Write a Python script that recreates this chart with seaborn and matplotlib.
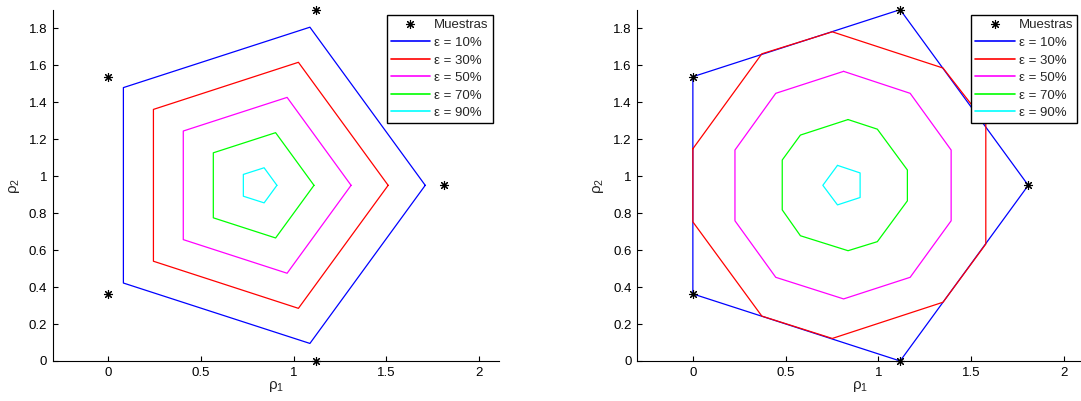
import numpy as np
import seaborn as sns
import matplotlib.pyplot as plt
from matplotlib.lines import Line2D

sns.set_style('white')
plt.rcParams['font.family'] = ['Liberation Sans', 'DejaVu Sans']
plt.rcParams['mathtext.fontset'] = 'custom'
plt.rcParams['mathtext.rm'] = 'Liberation Sans'
plt.rcParams['mathtext.it'] = 'Liberation Sans'
plt.rcParams['mathtext.default'] = 'regular'

# muestras (pentagono de referencia)
samples_x = [0.0, 0.0, 1.118, 1.809, 1.118]
samples_y = [0.363, 1.539, 1.902, 0.951, 0.0]

labels = ['ε = 10%', 'ε = 30%', 'ε = 50%', 'ε = 70%', 'ε = 90%']
colors = ['#0000ff', '#ff0000', '#ff00ff', '#00ff00', '#00ffff']

# panel izquierdo: pentagonos escalados
left_x = [
    [1.709, 1.087, 0.081, 0.081, 1.087],
    [1.509, 1.025, 0.243, 0.243, 1.025],
    [1.309, 0.964, 0.404, 0.404, 0.964],
    [1.109, 0.902, 0.566, 0.566, 0.902],
    [0.909, 0.840, 0.728, 0.728, 0.840],
]
left_y = [
    [0.951, 1.807, 1.480, 0.422, 0.095],
    [0.951, 1.617, 1.362, 0.540, 0.285],
    [0.951, 1.427, 1.245, 0.657, 0.475],
    [0.951, 1.236, 1.127, 0.775, 0.666],
    [0.951, 1.046, 1.010, 0.892, 0.856],
]

# panel derecho
right_x = [
    [1.809, 1.118, 0.0, 0.0, 1.118],
    [0.0, 0.372, 0.752, 1.349, 1.580, 1.580, 1.349, 0.752, 0.372, 0.0],
    [0.813, 1.172, 1.393, 1.393, 1.172, 0.813, 0.447, 0.227, 0.227, 0.447],
    [0.837, 0.995, 1.157, 1.157, 0.995, 0.837, 0.580, 0.482, 0.482, 0.580],
    [0.780, 0.902, 0.902, 0.780, 0.701],
]
right_y = [
    [0.951, 1.902, 1.539, 0.363, 0.0],
    [1.149, 1.663, 1.782, 1.586, 1.289, 0.633, 0.318, 0.122, 0.243, 0.753],
    [1.568, 1.449, 1.142, 0.759, 0.453, 0.336, 0.453, 0.759, 1.142, 1.449],
    [1.307, 1.255, 1.034, 0.867, 0.646, 0.597, 0.678, 0.818, 1.088, 1.223],
    [1.059, 1.018, 0.885, 0.845, 0.951],
]

xticks = [0, 0.5, 1, 1.5, 2]
xticklabels = ['0', '0.5', '1', '1.5', '2']
yticks = [0, 0.2, 0.4, 0.6, 0.8, 1.0, 1.2, 1.4, 1.6, 1.8]
yticklabels = ['0', '0.2', '0.4', '0.6', '0.8', '1', '1.2', '1.4', '1.6', '1.8']

fig = plt.figure(figsize=(10.81, 4.01), dpi=100)
ax1 = fig.add_axes([0.0488, 0.0998, 0.4130, 0.8752])
ax2 = fig.add_axes([0.5895, 0.0998, 0.4130, 0.8752])

star = (8, 2, 0)


def draw_panel(ax, xs, ys):
    for px, py, c in zip(xs, ys, colors):
        px = list(px) + [px[0]]
        py = list(py) + [py[0]]
        sns.lineplot(x=px, y=py, sort=False, estimator=None, color=c,
                     linewidth=0.9, ax=ax)
    ax.plot(samples_x, samples_y, linestyle='none', marker=star,
            markersize=6.5, color='black', markeredgewidth=0.8, clip_on=False,
            zorder=5)
    ax.set_xlim(-0.3, 2.108)
    ax.set_ylim(0, 1.9)
    ax.set_xticks(xticks)
    ax.set_xticklabels(xticklabels)
    ax.set_yticks(yticks)
    ax.set_yticklabels(yticklabels)
    ax.tick_params(direction='in', length=3.5, width=0.8, labelsize=9.5,
                   colors='black', pad=4, left=True, bottom=True)
    for s in ['top', 'right']:
        ax.spines[s].set_visible(False)
    for s in ['left', 'bottom']:
        ax.spines[s].set_color('black')
        ax.spines[s].set_linewidth(0.8)
    ax.set_xlabel(r'$\rho_1$', fontsize=11, labelpad=0)
    ax.set_ylabel(r'$\rho_2$', fontsize=11, labelpad=5)

    handles = [Line2D([], [], linestyle='none', marker=star, markersize=6.5,
                      color='black', markeredgewidth=0.8)]
    for c in colors:
        handles.append(Line2D([], [], color=c, linewidth=1.2))
    leg = ax.legend(handles, ['Muestras'] + labels, loc='upper right',
                    bbox_to_anchor=(0.985, 0.985), fontsize=9.5,
                    fancybox=False, framealpha=1, edgecolor='black',
                    handlelength=3.0, handletextpad=0.3, labelspacing=0.4,
                    borderpad=0.3, borderaxespad=0)
    leg.get_frame().set_linewidth(1.0)


draw_panel(ax1, left_x, left_y)
draw_panel(ax2, right_x, right_y)

fig.savefig('out.png', dpi=100)
